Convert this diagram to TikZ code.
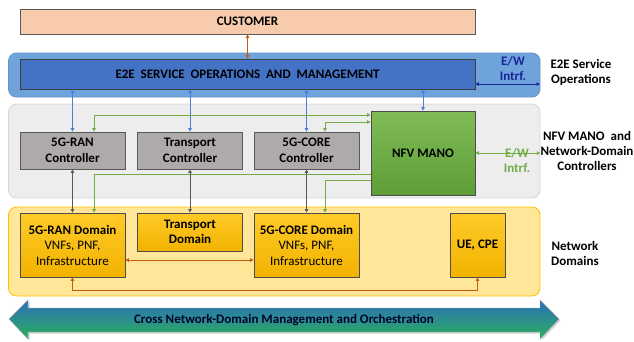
\documentclass[tikz,border=0pt]{standalone}
\usepackage{fontspec}
\setmainfont{Carlito}
\usepackage{xcolor}
\usetikzlibrary{arrows.meta,shadows}

\definecolor{custfill}{HTML}{F8CBAD}
\definecolor{e2eband}{HTML}{6FA3DB}
\definecolor{e2efill}{HTML}{4472C4}
\definecolor{mgmtfill}{HTML}{EDEDED}
\definecolor{mgmtline}{HTML}{D6D6D6}
\definecolor{ctrlfill}{HTML}{AEAAAA}
\definecolor{nfvtop}{HTML}{80BB58}
\definecolor{nfvbot}{HTML}{5E9E36}
\definecolor{domband}{HTML}{FFE699}
\definecolor{domline}{HTML}{FFC000}
\definecolor{domtop}{HTML}{FFCA28}
\definecolor{dombot}{HTML}{F2B300}
\definecolor{orgarr}{HTML}{C55A11}
\definecolor{bluarr}{HTML}{4A7FD6}
\definecolor{grnarr}{HTML}{70AD47}
\definecolor{grayarr}{HTML}{595959}
\definecolor{ewblue}{HTML}{18259A}
\definecolor{crosstop}{HTML}{2C6EBC}
\definecolor{crossbot}{HTML}{2BB05A}

\begin{document}
\begin{tikzpicture}[x=1pt,y=-1pt,
            >={Triangle[length=3.5pt,width=3.5pt]},
            band/.style={rounded corners=8pt, line width=0.8pt, minimum width=531.5pt},
            box/.style={draw=black!65, line width=0.8pt, inner sep=0pt, align=center,
                        font=\fontsize{13}{15.5}\selectfont\bfseries},
            ctrl/.style={box, fill=ctrlfill, minimum width=105pt, minimum height=37pt},
            dom/.style={box, top color=domtop, bottom color=dombot, draw=black!70,
                        minimum width=105pt, minimum height=64pt},
            side/.style={align=center, font=\fontsize{13}{15}\selectfont\bfseries},
            org/.style={draw=orgarr, line width=0.9pt, <->},
            blu/.style={draw=bluarr, line width=0.9pt, <->},
            grn/.style={draw=grnarr, line width=0.9pt},
            gry/.style={draw=grayarr, line width=0.9pt, <->}]
  \useasboundingbox (0,0) rectangle (634,341);

  % bands
  \node[band, fill=e2eband, draw=e2eband!90!black, minimum height=44pt] (e2eband) at (274.25,75) {};
  \node[band, fill=mgmtfill, draw=mgmtline, minimum height=94pt] (mgmtband) at (274.25,151) {};
  \node[band, fill=domband, draw=domline, minimum height=89pt] (domband) at (274.25,251.5) {};

  % top
  \node[box, fill=custfill, minimum width=455pt, minimum height=25pt] (customer) at (247.5,21.5) {CUSTOMER};
  \node[box, fill=e2efill, draw=black!75, minimum width=455pt, minimum height=30pt] (e2e) at (247.5,74)
        {E2E\ \ SERVICE\ \ OPERATIONS\ \ AND\ \ MANAGEMENT};

  % controllers
  \node[ctrl] (ranctrl) at (72.5,150.5) {5G-RAN\\Controller};
  \node[ctrl] (trctrl) at (190,150.5) {Transport\\Controller};
  \node[ctrl] (corectrl) at (306.5,150.5) {5G-CORE\\Controller};
  \node[box, top color=nfvtop, bottom color=nfvbot, draw=black!70, minimum width=104pt, minimum height=84pt] (nfv) at (423,153) {NFV MANO};

  % domains
  \node[dom] (random) at (72.5,245) {5G-RAN Domain\\\mdseries VNFs, PNF,\\\mdseries Infrastructure};
  \node[dom, minimum height=38pt] (trdom) at (190,232) {Transport\\Domain};
  \node[dom] (coredom) at (306.5,245) {5G-CORE Domain\\\mdseries VNFs, PNF,\\\mdseries Infrastructure};
  \node[dom, minimum width=55pt] (ue) at (477.5,245) {UE, CPE};

  % side labels
  \node[side] (e2elbl) at (581,72) {E2E Service\\Operations};
  \node[side] (mgmtlbl) at (587,151) {NFV MANO\ \ and\\Network-Domain\\Controllers};
  \node[side] (domlbl) at (575,253) {Network\\Domains};
  \node[side, text=ewblue] (ewtop) at (513,68.5) {E/W\\Intrf.};
  \node[side, text=grnarr] (ewmid) at (517,160.5) {E/W\\Intrf.};

  % connectors
  \coordinate (ewbl) at (540,84);
  \coordinate (rang) at (94,115);
  \coordinate (coreg) at (325,122);
  \coordinate (rang2) at (94,174);
  \coordinate (coreg2) at (325,180);
  \coordinate (orgmid) at (0,260);

  \draw[org] (customer.south) -- (e2e.north);
  \draw[draw=ewblue, line width=0.9pt, <->] (e2e.east |- ewbl) -- (ewbl);
  \draw[blu] (ranctrl.north |- e2e.south) -- (ranctrl.north);
  \draw[blu] (trctrl.north |- e2e.south) -- (trctrl.north);
  \draw[blu] (corectrl.north |- e2e.south) -- (corectrl.north);
  \draw[blu] (nfv.north |- e2e.south) -- (nfv.north);

  \draw[grn, <->] (rang |- ranctrl.north) -- (rang) -- (rang -| nfv.west);
  \draw[grn, <->] (coreg |- corectrl.north) -- (coreg) -- (coreg -| nfv.west);
  \draw[grn, ->] (rang2 -| nfv.west) -- (rang2) -- (rang2 |- random.north);
  \draw[grn, ->] (coreg2 -| nfv.west) -- (coreg2) -- (coreg2 |- coredom.north);
  \draw[grn, <->] (nfv.east) -- (mgmtband.east |- nfv.east);

  \draw[gry] (ranctrl.south) -- (random.north);
  \draw[gry] (trctrl.south) -- (trdom.north);
  \draw[gry] (corectrl.south) -- (coredom.north);

  \draw[org] (random.east |- orgmid) -- (coredom.west |- orgmid);
  \draw[org] (random.south) -- ++(0,13) -| (ue.south);

  % cross-domain arrow
  \path[top color=crosstop, bottom color=crossbot, draw=black!35, line width=0.4pt,
        drop shadow={shadow xshift=1.5pt, shadow yshift=-1.5pt, opacity=0.35}]
    (9,319) -- (28,300) -- (28,308) -- (540,308) -- (540,300) -- (559,319)
    -- (540,339) -- (540,332) -- (28,332) -- (28,339) -- cycle;
  \node[side, text=black!80!blue] (cross) at (284,320) {Cross Network-Domain Management and Orchestration};
\end{tikzpicture}
\end{document}
